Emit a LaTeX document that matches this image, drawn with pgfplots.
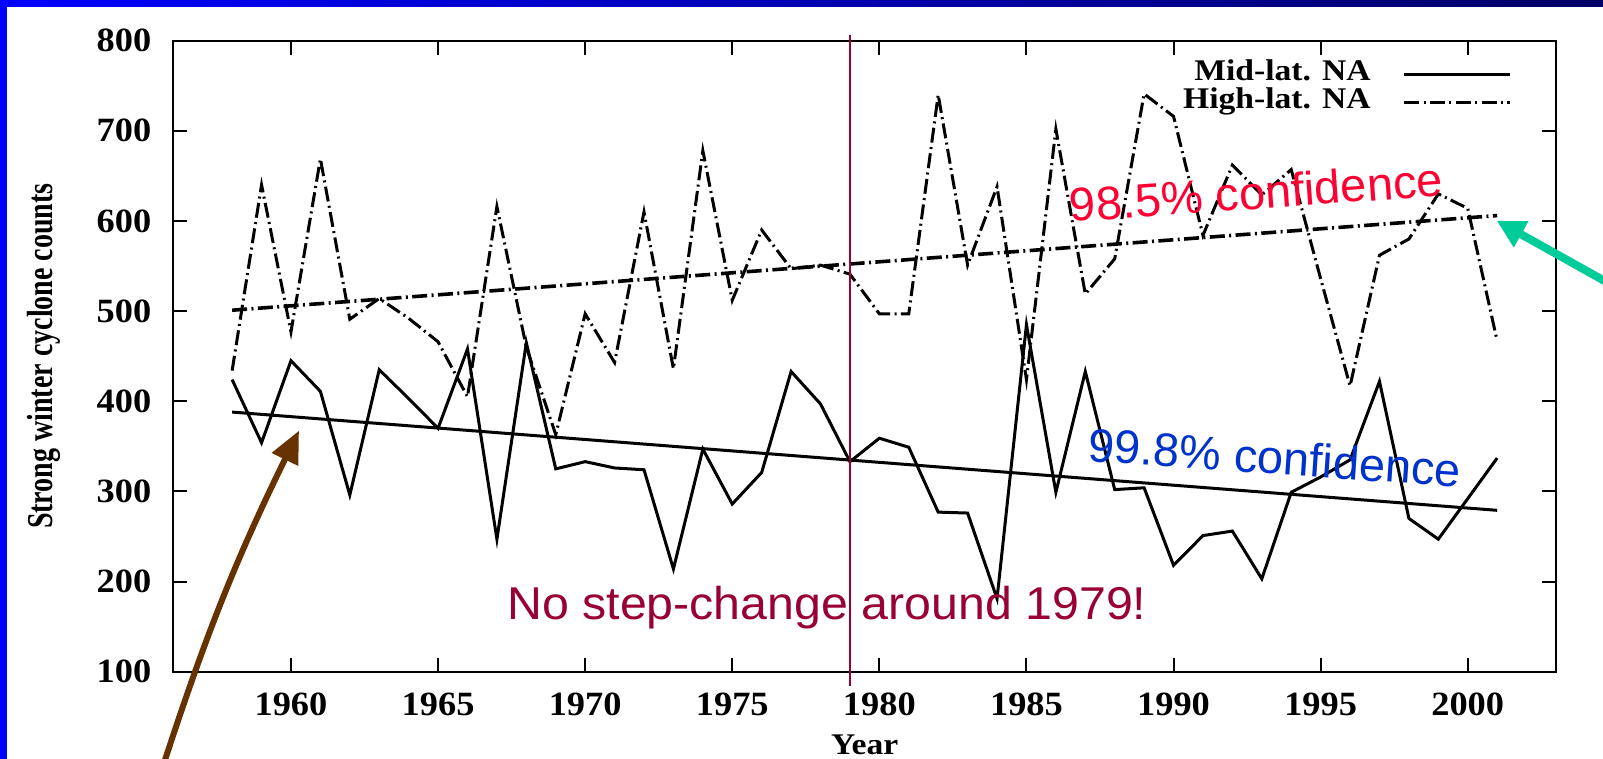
\documentclass[border=0pt]{standalone}
\usepackage{pgfplots}
\pgfplotsset{compat=1.18}
\usepackage{fontspec}
\setmainfont{Liberation Serif}
\newfontfamily\annfont{Liberation Sans}
\usetikzlibrary{arrows.meta}
\definecolor{stepred}{RGB}{153,0,51}
\definecolor{confred}{RGB}{255,0,51}
\definecolor{confblue}{RGB}{0,51,204}
\definecolor{arrbrown}{RGB}{102,51,0}
\definecolor{arrgreen}{RGB}{0,204,153}
\definecolor{slideblue}{RGB}{0,0,255}
\definecolor{slidenavy}{RGB}{0,0,102}
\newcommand\sx[1]{\scalebox{1.07}[1]{#1}}
\begin{document}
\begin{tikzpicture}
\useasboundingbox (0,0) rectangle (801.5pt,379.5pt);
\fill[white] (0,0) rectangle (801.5pt,379.5pt);
\begin{axis}[
  scale only axis, width=691.35pt, height=315.5pt,
  at={(86.65pt,43.65pt)}, anchor=south west,
  xmin=1956, xmax=2003, ymin=100, ymax=800,
  xtick={1960,1965,...,2000}, ytick={100,200,...,800},
  minor tick num=0,
  tick align=inside, major tick length=7pt,
  axis line style={line width=1pt},
  tick style={line width=1pt, black},
  clip=false,
  /pgf/number format/1000 sep={},
  /pgf/number format/assume math mode=true,
  ticklabel style={font=\bfseries\fontsize{17}{17}\selectfont, inner sep=0pt},
  xticklabel={\sx{\pgfmathprintnumber{\tick}}},
  yticklabel={\sx{\pgfmathprintnumber{\tick}}},
  xticklabel style={anchor=north, yshift=-10.3pt},
  yticklabel style={anchor=east, xshift=-10.8pt},
  xlabel={\scalebox{1.12}[1]{Year}},
  ylabel={\scalebox{1}[1.3]{Strong winter cyclone counts}},
  every axis x label/.style={at={(axis description cs:0.5,-0.1315)}, anchor=base, font=\bfseries\fontsize{15}{15}\selectfont, inner sep=0pt},
  every axis y label/.style={at={(axis description cs:-0.0935,0.5)}, anchor=center, rotate=90, font=\bfseries\fontsize{14}{14}\selectfont, inner sep=0pt},
  legend style={at={(0.968,0.9683)}, anchor=north east, draw=none, fill=none,
    inner sep=0pt, outer sep=0pt, row sep=0pt, column sep=16pt,
    nodes={inner sep=0pt, text height=10pt, text depth=3.8pt},
    font=\bfseries\fontsize{15}{15}\selectfont},
  legend cell align=right, legend plot pos=right,
  legend image code/.code={\draw[#1] (0pt,0pt) -- (53pt,0pt);},
]
% Mid-lat. NA
\addplot[black, line width=1.5pt] coordinates {
(1958,424) (1959,354) (1960,445) (1961,411) (1962,296) (1963,435) (1964,403)
(1965,370) (1966,458) (1967,247) (1968,465) (1969,325) (1970,333) (1971,326)
(1972,324) (1973,214) (1974,347) (1975,286) (1976,321) (1977,433) (1978,397)
(1979,333) (1980,359) (1981,349) (1982,277) (1983,276) (1984,181) (1985,485)
(1986,299) (1987,433) (1988,302) (1989,304) (1990,218) (1991,251) (1992,256)
(1993,203) (1994,299) (1995,316) (1996,335) (1997,422) (1998,270) (1999,247)
(2000,292) (2001,337)};
\addlegendentry{\scalebox{1.12}[1]{Mid-lat. NA}}
% High-lat. NA
\addplot[black, line width=1.5pt, dash pattern=on 7.5pt off 2.2pt on 1pt off 2.2pt] coordinates {
(1958,434) (1959,640) (1960,477) (1961,669) (1962,491) (1963,514) (1964,492)
(1965,466) (1966,405) (1967,616) (1968,460) (1969,363) (1970,497) (1971,443)
(1972,610) (1973,436) (1974,678) (1975,512) (1976,590) (1977,547) (1978,551)
(1979,541) (1980,497) (1981,497) (1982,740) (1983,551) (1984,638) (1985,424)
(1986,702) (1987,519) (1988,558) (1989,741) (1990,716) (1991,584) (1992,662)
(1993,629) (1994,657) (1995,536) (1996,417) (1997,562) (1998,580) (1999,630)
(2000,614) (2001,467)};
\addlegendentry{\scalebox{1.12}[1]{High-lat. NA}}
% trends
\addplot[black, line width=1.5pt, forget plot] coordinates {(1958,388) (2001,279)};
\addplot[black, line width=1.8pt, dash pattern=on 7.5pt off 2.2pt on 1pt off 2.2pt, forget plot] coordinates {(1958,501) (2001,606)};
% 1979 marker line
\addplot[stepred, line width=1pt, forget plot] coordinates {(1979,84) (1979,806)};
\node[anchor=base west, rotate=4, inner sep=0pt, text=confred, font=\annfont\fontsize{23.5}{23.5}\selectfont] at (axis cs:1986.5,598.9) {98.5\% confidence};
\node[anchor=base west, rotate=-4, inner sep=0pt, text=confblue, font=\annfont\fontsize{23.5}{23.5}\selectfont] at (axis cs:1987.05,333.7) {99.8\% confidence};
\node[anchor=base west, inner sep=0pt, text=stepred, font=\annfont\fontsize{23}{23}\selectfont, xscale=1.05] at (axis cs:1967.34,157.4) {No step-change around 1979!};
\end{axis}
\begin{scope}
\clip (0,0) rectangle (801.5pt,379.5pt);
\draw[arrbrown, line width=3pt, -{Triangle[length=16pt,width=14pt]}] (82pt,-2pt) to[bend left=4] (149.5pt,164.15pt);
\draw[arrgreen, line width=4pt, -{Triangle[length=14pt,width=14pt]}] (812pt,233.6pt) -- (748.35pt,269.15pt);
\fill[slideblue] (0,0) rectangle (3.5pt,379.5pt);
\shade[left color=slideblue, right color=slidenavy] (0,376pt) rectangle (801.5pt,379.5pt);
\end{scope}
\end{tikzpicture}
\end{document}
